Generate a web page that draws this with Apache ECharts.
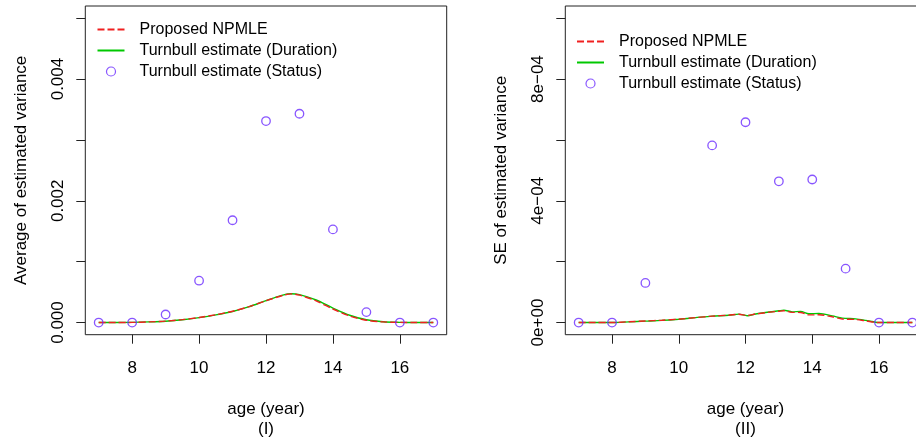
<!DOCTYPE html>
<html>
<head>
<meta charset="utf-8">
<script src="https://cdn.jsdelivr.net/npm/echarts@6/dist/echarts.min.js"></script>
<style>
  html, body { margin: 0; padding: 0; background: #fff; }
  #chart { width: 916px; height: 438px; }
</style>
</head>
<body>
<div id="chart"></div>
<script>
// ---- data ----
var seriesNames = ['Proposed NPMLE', 'Turnbull estimate (Duration)', 'Turnbull estimate (Status)'];

// panel (I): average of estimated variance
var ageL = [7, 7.5, 8, 8.5, 9, 9.5, 10, 10.5, 11, 11.5, 12, 12.5, 12.75, 13, 13.5, 14, 14.5, 15, 15.5, 16, 16.5, 17];
var npmleL = [0, 0, 0.000002, 0.00001, 0.000023, 0.000047, 0.000082, 0.000128, 0.000185, 0.000262, 0.000358, 0.000445, 0.00047, 0.00045, 0.000355, 0.000222, 0.000108, 0.000038, 0.00001, 0.000002, 0, 0];
var durationL = [0, 0, 0.000002, 0.00001, 0.000022, 0.000045, 0.00008, 0.000125, 0.000182, 0.00026, 0.00036, 0.00045, 0.000473, 0.000458, 0.00037, 0.000238, 0.00012, 0.000045, 0.000012, 0.000003, 0, 0];
var statusAge = [7, 8, 9, 10, 11, 12, 13, 14, 15, 16, 17];
var statusL = [0, 0, 0.000132, 0.000687, 0.00168, 0.00331, 0.00343, 0.00153, 0.000171, 0, 0];

// panel (II): SE of estimated variance
var ageR = [7, 7.5, 8, 8.5, 9, 9.5, 10, 10.5, 11, 11.5, 11.8, 12.05, 12.3, 12.6, 13, 13.15, 13.4, 13.65, 13.9, 14.2, 14.6, 14.9, 15.3, 15.6, 15.9, 16, 16.5, 17];
var npmleR = [0, 0, 0, 0.0000025, 0.000005, 0.0000075, 0.000011, 0.000016, 0.000021, 0.000024, 0.000027, 0.000023, 0.000028, 0.0000325, 0.000037, 0.0000385, 0.0000335, 0.000033, 0.000025, 0.0000255, 0.000019, 0.0000115, 0.00001, 0.0000055, 0.0000005, 0, 0, 0];
var durationR = [0, 0, 0, 0.000002, 0.0000045, 0.000007, 0.000011, 0.000016, 0.000021, 0.000024, 0.0000275, 0.0000225, 0.000028, 0.000033, 0.0000385, 0.0000405, 0.000035, 0.0000365, 0.000029, 0.0000295, 0.000022, 0.0000145, 0.000012, 0.000007, 0.000001, 0, 0, 0];
var statusR = [0, 0, 0.00013, null, 0.000582, 0.000658, 0.000464, 0.00047, 0.000177, 0, 0];

// axes
var xTicks = [8, 10, 12, 14, 16];
var yTicksL = [0, 0.001, 0.002, 0.003, 0.004, 0.005];
var yLabelValsL = [0, 0.002, 0.004];
var yLabelTextL = ['0.000', '0.002', '0.004'];
var yTicksR = [0, 0.0002, 0.0004, 0.0006, 0.0008, 0.001];
var yLabelValsR = [0, 0.0004, 0.0008];
var yLabelTextR = ['0e+00', '4e\u221204', '8e\u221204'];

function pairs(xs, ys) {
  var out = [];
  for (var i = 0; i < xs.length; i++) {
    if (ys[i] !== null) out.push([xs[i], ys[i]]);
  }
  return out;
}

function lookup(vals, texts) {
  return function (v) {
    for (var i = 0; i < vals.length; i++) {
      if (Math.abs(v - vals[i]) < 1e-9) return texts[i];
    }
    return '';
  };
}

var font = 'Liberation Sans, Arial, Helvetica, sans-serif';
var red = '#F02020';
var green = '#00C800';
var purple = '#6A2BFF';

function xAxisFor(gridIndex, name) {
  return {
    type: 'value', gridIndex: gridIndex, min: 6.6, max: 17.4,
    name: name, nameLocation: 'middle', nameGap: 65,
    nameTextStyle: { fontSize: 17, color: '#000', fontFamily: font, lineHeight: 20 },
    axisLine: { show: false, onZero: false },
    splitLine: { show: false },
    axisTick: { show: true, inside: false, length: 9, customValues: xTicks, lineStyle: { color: '#222' } },
    axisLabel: { customValues: xTicks, margin: 25, fontSize: 17, color: '#000', fontFamily: font }
  };
}

function yAxisFor(gridIndex, name, min, max, ticks, labVals, labTexts) {
  return {
    type: 'value', gridIndex: gridIndex, min: min, max: max,
    name: name, nameLocation: 'middle', nameGap: 55,
    nameTextStyle: { fontSize: 17, color: '#000', fontFamily: font },
    axisLine: { show: false, onZero: false },
    splitLine: { show: false },
    axisTick: { show: true, inside: false, length: 9, customValues: ticks, lineStyle: { color: '#222' } },
    axisLabel: { customValues: labVals, rotate: 90, margin: 18, fontSize: 17, color: '#000', fontFamily: font,
      formatter: lookup(labVals, labTexts) }
  };
}

function seriesFor(idx, ages, np, dur, status) {
  return [
    { name: seriesNames[1], type: 'line', xAxisIndex: idx, yAxisIndex: idx, data: pairs(ages, dur),
      showSymbol: false, symbol: 'none', smooth: 0.3, lineStyle: { color: green, width: 1.4 }, itemStyle: { color: green }, z: 2 },
    { name: seriesNames[0], type: 'line', xAxisIndex: idx, yAxisIndex: idx, data: pairs(ages, np),
      showSymbol: false, symbol: 'none', smooth: 0.3, lineStyle: { color: red, width: 1.4, type: [7, 3] }, itemStyle: { color: red }, z: 3 },
    { name: seriesNames[2], type: 'scatter', xAxisIndex: idx, yAxisIndex: idx, data: pairs(statusAge, status),
      symbol: 'circle', symbolSize: 8.5,
      itemStyle: { color: 'rgba(255,255,255,0)', borderColor: purple, borderWidth: 1.3 }, z: 4 }
  ];
}

function legendAt(left, top) {
  return {
    left: left, top: top, orient: 'vertical', padding: 0,
    itemWidth: 27, itemHeight: 9, itemGap: 0,
    data: [
      { name: seriesNames[0], itemStyle: { opacity: 0 } },
      { name: seriesNames[1], itemStyle: { opacity: 0 } },
      { name: seriesNames[2], itemStyle: { color: 'rgba(255,255,255,0)', borderColor: purple, borderWidth: 1.2 } }
    ],
    textStyle: { fontSize: 16, color: '#000', fontFamily: font, lineHeight: 21, padding: [0, 0, 0, 10] },
    selectedMode: false
  };
}

var chart = echarts.init(document.getElementById('chart'), null, { renderer: 'canvas' });
var option = {
  animation: false,
  backgroundColor: '#fff',
  grid: [
    { left: 85.3, top: 6, width: 361.4, height: 328.7, outerBoundsMode: 'none', show: true, borderColor: '#222', borderWidth: 1, backgroundColor: 'transparent' },
    { left: 565.3, top: 6, width: 360.4, height: 328.7, outerBoundsMode: 'none', show: true, borderColor: '#222', borderWidth: 1, backgroundColor: 'transparent' }
  ],
  legend: [legendAt(96.5, 19), legendAt(576, 31)],
  xAxis: [xAxisFor(0, 'age (year)\n(I)'), xAxisFor(1, 'age (year)\n(II)')],
  yAxis: [
    yAxisFor(0, 'Average of estimated variance', -0.0002, 0.0052, yTicksL, yLabelValsL, yLabelTextL),
    yAxisFor(1, 'SE of estimated variance', -0.00004, 0.00104, yTicksR, yLabelValsR, yLabelTextR)
  ],
  series: seriesFor(0, ageL, npmleL, durationL, statusL).concat(seriesFor(1, ageR, npmleR, durationR, statusR))
};
chart.setOption(option);
</script>
</body>
</html>
